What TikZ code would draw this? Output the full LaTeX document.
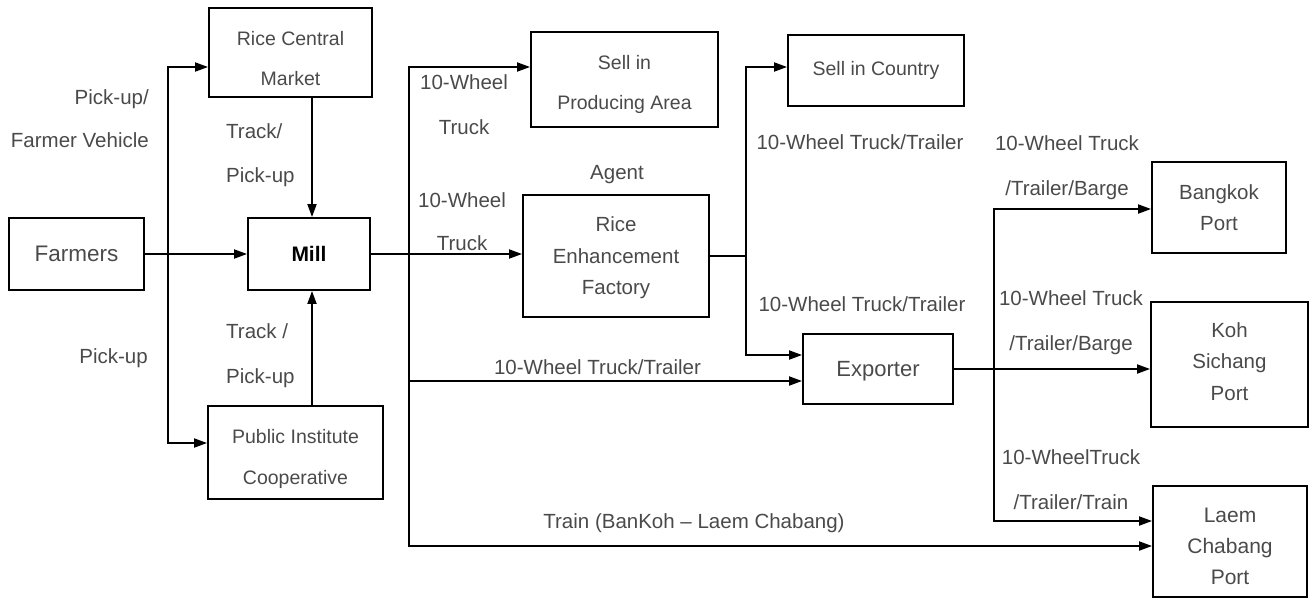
\documentclass[tikz,border=0pt]{standalone}
\usepackage{fontspec}
\setmainfont{Liberation Sans}
\usetikzlibrary{arrows.meta}
\definecolor{txt}{HTML}{4A4A4A}
\newcommand\fsz[2]{\fontsize{#1}{#2}\selectfont}
% invisible struts that nudge box text down (taller first line) or up (deeper last line)
\newcommand\tup[1]{\rule{0pt}{#1}}
\newcommand\tdn[1]{\rule[-#1]{0pt}{1pt}}
\begin{document}
\begin{tikzpicture}[x=1pt,y=-1pt,
  box/.style={draw, line width=1.9pt, rectangle, inner sep=0pt, align=center, text=txt},
  arr/.style={line width=1.9pt, -{Triangle[length=13pt,width=9pt]}},
  ln/.style={line width=1.9pt},
  lbl/.style={text=txt, inner sep=0pt, font=\fsz{20.5}{24}}
]
\useasboundingbox (0,0) rectangle (1314,600);

% ---- boxes ----
\node[box, minimum width=135pt, minimum height=72pt, font=\fsz{22.5}{27}] (farm) at (76.5,254) {Farmers};
\node[box, minimum width=163pt, minimum height=89pt, font=\fsz{19.5}{40}] (rcm) at (290.5,52.5) {\tup{26pt}Rice Central\\Market};
\node[box, minimum width=122pt, minimum height=72pt, font=\fsz{21}{25}\bfseries, text=black] (mill) at (309,254) {Mill};
\node[box, minimum width=175pt, minimum height=93pt, font=\fsz{19.5}{41}] (pic) at (295.5,452.5) {\tup{28pt}Public Institute\\Cooperative};
\node[box, minimum width=187pt, minimum height=95pt, font=\fsz{19.5}{40}] (spa) at (624.5,79.5) {\tup{24pt}Sell in\\Producing Area};
\node[box, minimum width=186pt, minimum height=122pt, font=\fsz{20.5}{31.5}] (ref) at (616,256) {\tup{19pt}Rice\\Enhancement\\Factory};
\node[box, minimum width=176pt, minimum height=71pt, font=\fsz{19.5}{24}] (sic) at (876,70.5) {Sell in Country};
\node[box, minimum width=150pt, minimum height=70pt, font=\fsz{22}{26}] (exp) at (878,369) {\tup{19pt}Exporter};
\node[box, minimum width=134pt, minimum height=91pt, font=\fsz{20.5}{31}] (bkk) at (1219,207.5) {Bangkok\\Port};
\node[box, minimum width=157pt, minimum height=125pt, font=\fsz{20.5}{31.5}] (koh) at (1229.5,364.5) {Koh\\Sichang\\Port\tdn{6.5pt}};
\node[box, minimum width=154pt, minimum height=111pt, font=\fsz{21}{31}] (lcb) at (1230,541.5) {\tup{25pt}Laem\\Chabang\\Port};

% ---- branch points ----
\coordinate (t1) at (168,254);
\coordinate (t2) at (409,254);
\coordinate (t3) at (746,256);
\coordinate (t4) at (994,364);

% ---- connectors ----
\draw[arr] (farm.east) -- (farm.east -| mill.west);
\draw[arr] (t1) |- ([yshift=-14.5pt]rcm.west);
\draw[arr] (t1) |- ([yshift=9.5pt]pic.west);
\draw[arr] ([xshift=21.5pt]rcm.south) -- ([xshift=3pt]mill.north);
\draw[arr] ([xshift=16.5pt]pic.north) -- ([xshift=3pt]mill.south);

\draw[arr] (mill.east) -- (mill.east -| ref.west);
\draw[arr] (t2) |- ([yshift=12.5pt]spa.west);
\draw[arr] (t2) |- ([yshift=-12pt]exp.west);
\draw[arr] (t2) |- ([yshift=-4.5pt]lcb.west);

\draw[ln] (ref.east) -- (t3);
\draw[arr] (t3) |- ([yshift=3.5pt]sic.west);
\draw[arr] (t3) |- ([yshift=14pt]exp.west);

\draw[arr] (exp.east) -- (exp.east -| koh.west);
\draw[arr] (t4) |- ([yshift=-1.5pt]bkk.west);
\draw[arr] (t4) |- ([yshift=20.5pt]lcb.west);

% ---- transport labels ----
\node[lbl, anchor=east, align=right, font=\fsz{20.5}{43}] (l1) at (149,118.5) {Pick-up/\\Farmer Vehicle};
\node[lbl, anchor=east] (l2) at (148,358) {Pick-up};
\node[lbl, anchor=west, align=left, font=\fsz{20.5}{44}] (l3) at (226,155) {Track/\\Pick-up};
\node[lbl, anchor=west, align=left, font=\fsz{20.5}{45}] (l4) at (226,355.5) {Track /\\Pick-up};
\node[lbl, align=center, font=\fsz{20.5}{45}] (l5) at (464,104.5) {10-Wheel\\Truck};
\node[lbl, align=center, font=\fsz{20.5}{43}] (l6) at (462,221.5) {10-Wheel\\Truck};
\node[lbl] (l7) at (617,175) {Agent};
\node[lbl] (l8) at (597.5,367) {10-Wheel Truck/Trailer};
\node[lbl] (l9) at (694,523) {Train (BanKoh – Laem Chabang)};
\node[lbl] (l10) at (860,142) {10-Wheel Truck/Trailer};
\node[lbl] (l11) at (862,304) {10-Wheel Truck/Trailer};
\node[lbl, align=center, font=\fsz{20.5}{45}] (l12) at (1067,167.5) {10-Wheel Truck\\/Trailer/Barge};
\node[lbl, align=center, font=\fsz{20.5}{45}] (l13) at (1071,322.5) {10-Wheel Truck\\/Trailer/Barge};
\node[lbl, align=center, font=\fsz{20.5}{45}] (l14) at (1071,479.5) {10-WheelTruck\\/Trailer/Train};
\end{tikzpicture}
\end{document}
